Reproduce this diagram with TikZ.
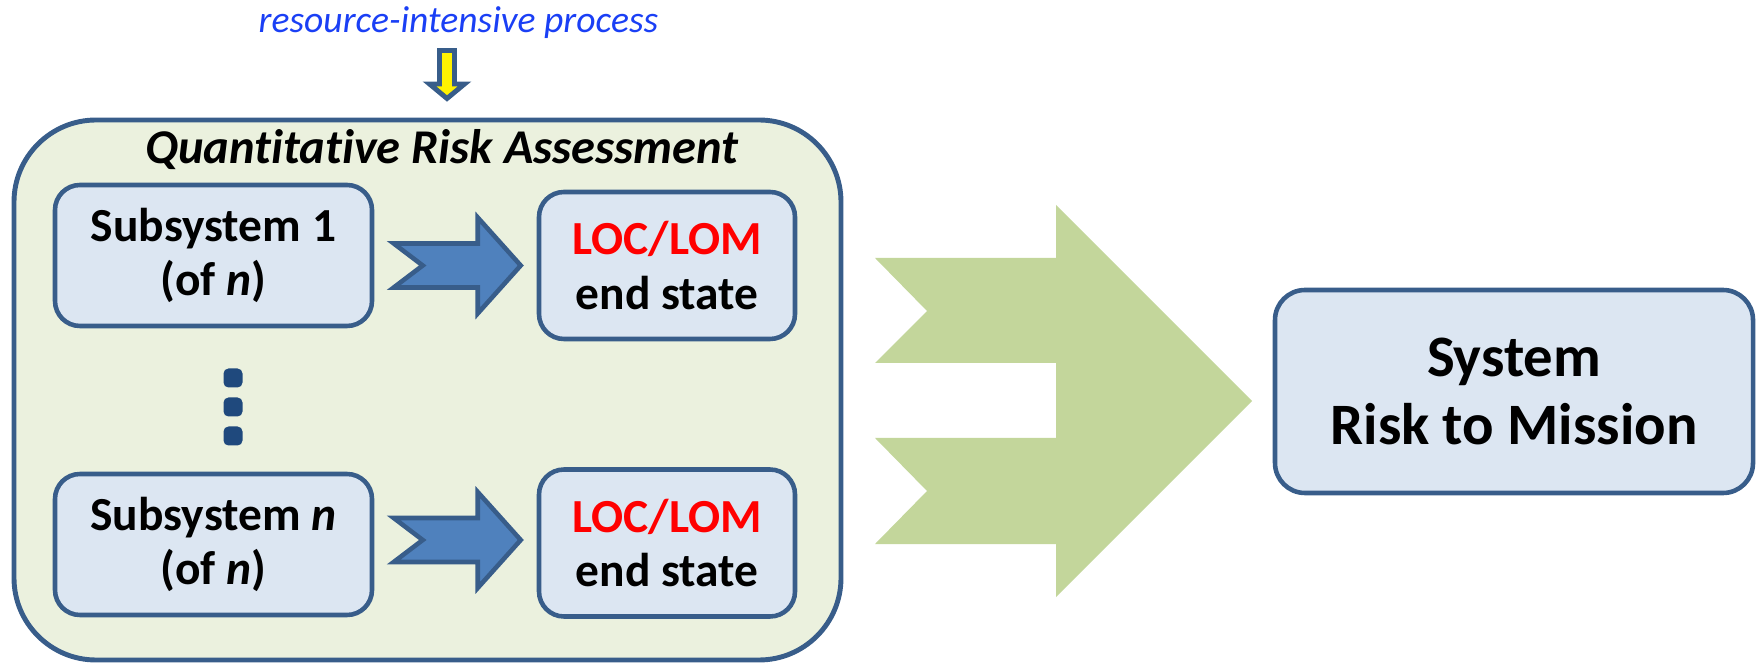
\documentclass[tikz,border=0pt]{standalone}
\usepackage{fontspec}
\setmainfont{Carlito}[Ligatures=NoCommon]
\usetikzlibrary{positioning,calc}
\definecolor{boxline}{HTML}{385D8A}
\definecolor{boxfill}{HTML}{DCE6F2}
\definecolor{qrafill}{HTML}{EBF1DE}
\definecolor{flowgreen}{HTML}{C3D69B}
\definecolor{arrowblue}{HTML}{4F81BD}
\definecolor{dotblue}{HTML}{1F497D}
\definecolor{resblue}{HTML}{1A3FF5}
\begin{document}
\begin{tikzpicture}[
    subbox/.style={draw=boxline,fill=boxfill,line width=1.3pt,rounded corners=0.25cm,align=center,inner sep=0pt,font=\fontsize{13.5}{15.6}\selectfont\bfseries},
    blockarrow/.pic={\draw[fill=arrowblue,draw=boxline,line width=1.3pt,line join=miter] (-1.27,0.22) -- (-0.43,0.22) -- (-0.43,0.48) -- (0,0) -- (-0.43,-0.48) -- (-0.43,-0.22) -- (-1.27,-0.22) -- (-0.98,0) -- cycle;}
]
\useasboundingbox (0,0) rectangle (17.59,6.64);

% outer assessment box
\node[draw=boxline,fill=qrafill,line width=1.4pt,rounded corners=0.82cm,minimum width=8.27cm,minimum height=5.40cm,inner sep=0pt] (qra) at (4.275,2.74) {};
\node[anchor=base,font=\fontsize{13.8}{16}\selectfont\bfseries\itshape] (title) at (4.42,5.00) {Quantitative Risk Assessment};

% note on top
\node[anchor=base,text=resblue,font=\fontsize{10.7}{13}\selectfont\itshape] (res) at (4.585,6.31) {resource-intensive process};
\draw[fill=yellow,draw=boxline,line width=1.4pt,line join=miter] (4.395,6.135) -- (4.545,6.135) -- (4.545,5.80) -- (4.645,5.80) -- (4.47,5.655) -- (4.295,5.80) -- (4.395,5.80) -- cycle;

% subsystems
\node[subbox,minimum width=3.17cm,minimum height=1.41cm] (sub1) at (2.135,4.085) {Subsystem 1\\(of \textit{n})};
\node[subbox,minimum width=3.17cm,minimum height=1.41cm] (subn) at (2.135,1.195) {Subsystem \textit{n}\\(of \textit{n})};
\node[subbox,minimum width=2.56cm,minimum height=1.47cm] (loc1) at (6.67,3.985) {\textcolor{red}{LOC/LOM}\\end state};
\node[subbox,minimum width=2.56cm,minimum height=1.47cm] (locn) at (6.67,1.21) {\textcolor{red}{LOC/LOM}\\end state};
\pic at ($(loc1.west)+(-0.16,0)$) {blockarrow};
\pic at ($(locn.west)+(-0.16,0.03)$) {blockarrow};

% vertical dots
\foreach \y in {2.86,2.57,2.28}
    \fill[dotblue,rounded corners=0.05cm] (2.235,\y-0.095) rectangle (2.425,\y+0.095);

% merging arrow
\fill[flowgreen] (8.75,4.06) -- (10.56,4.06) -- (10.56,4.59) -- (12.52,2.63) -- (10.56,0.67) -- (10.56,1.20) -- (8.75,1.20) -- (9.27,1.73) -- (8.75,2.26) -- (10.56,2.26) -- (10.56,3.01) -- (8.75,3.01) -- (9.27,3.53) -- cycle;

% result
\node[subbox,rounded corners=0.3cm,minimum width=4.78cm,minimum height=2.03cm,font=\fontsize{16.7}{19.4}\selectfont\bfseries] (sys) at (15.14,2.725) {System\\Risk to Mission};
\end{tikzpicture}
\end{document}
